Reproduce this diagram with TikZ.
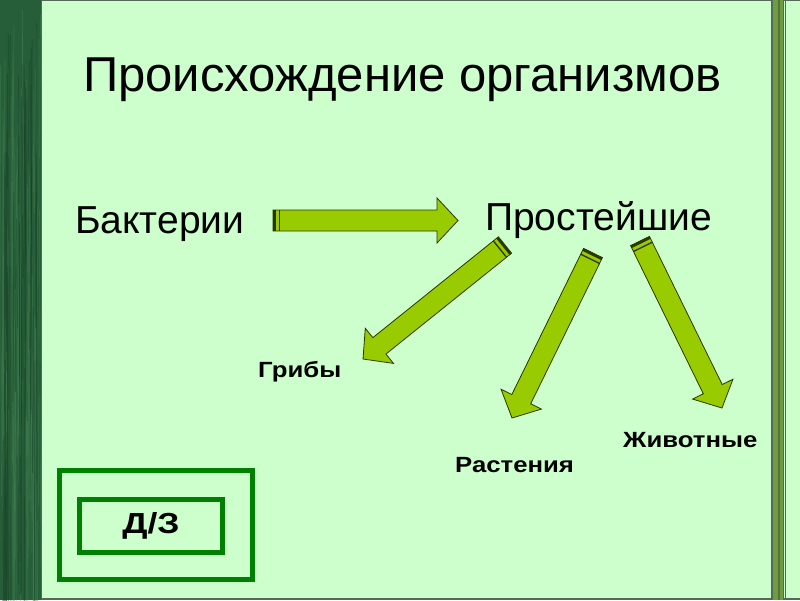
\documentclass[tikz,border=0pt]{standalone}
\usepackage{fontspec}
\setmainfont{Liberation Sans}
\usetikzlibrary{calc}
\definecolor{slidebg}{HTML}{CCFFCC}
\definecolor{strip}{HTML}{255E38}
\definecolor{striplight}{HTML}{4C8A5C}
\definecolor{stripdark}{HTML}{173F25}
\definecolor{arrowfill}{HTML}{99CC00}
\definecolor{arrowline}{HTML}{2B3600}
\definecolor{boxgreen}{HTML}{008000}
\definecolor{railgray}{HTML}{55685A}
\definecolor{railgreen}{HTML}{6F9B45}

\tikzset{
  arrowbody/.style={fill=arrowfill, draw=arrowline, line width=0.8pt, line join=miter},
  headtext/.style={anchor=base west, inner sep=0pt, font=\fontsize{39}{42}\selectfont},
  kidtext/.style={anchor=base west, inner sep=0pt, xscale=1.17, font=\bfseries\fontsize{22}{24}\selectfont},
  hwbox/.style={draw=boxgreen, line width=5pt}
}

% block arrow from #1 (tail centre) to #2 (tip)
\newcommand{\blockarrow}[2]{%
  \coordinate (ba-h) at ($(#2)!21pt!(#1)$);
  \draw[arrowbody] ($(#1)!10.5pt!90:(#2)$) -- ($(ba-h)!10.5pt!90:(#2)$)
    -- ($(ba-h)!22.5pt!90:(#2)$) -- (#2) -- ($(ba-h)!22.5pt!-90:(#2)$)
    -- ($(ba-h)!10.5pt!-90:(#2)$) -- ($(#1)!10.5pt!-90:(#2)$) -- cycle;
  \coordinate (ba-t1) at ($(#1)!1.4pt!(#2)$);
  \coordinate (ba-t2) at ($(#1)!6.5pt!(#2)$);
  \draw[arrowline, line width=2.6pt] ($(ba-t1)!10.5pt!90:(#2)$) -- ($(ba-t1)!10.5pt!-90:(#2)$);
  \draw[arrowline, line width=1.3pt] ($(ba-t2)!10.5pt!90:(#2)$) -- ($(ba-t2)!10.5pt!-90:(#2)$);
}

\begin{document}
\begin{tikzpicture}[x=1pt, y=-1pt]
    \useasboundingbox (0,0) rectangle (800,600);

    % Slide background
    \fill[slidebg] (0,0) rectangle (800,600);

    % Textured strip on the left
    \fill[strip] (0,0) rectangle (41,600);
    \pgfmathsetseed{7}
    \foreach \i in {1,...,70} {
        \pgfmathsetmacro{\xx}{rnd*40+0.5}
        \pgfmathsetmacro{\yy}{rnd*500}
        \pgfmathsetmacro{\ll}{100+rnd*300}
        \draw[striplight, opacity=0.3, line width=0.9pt] (\xx,\yy) -- (\xx+rnd*3-1.5,\yy+\ll);
    }
    \foreach \i in {1,...,50} {
        \pgfmathsetmacro{\xx}{rnd*40+0.5}
        \pgfmathsetmacro{\yy}{rnd*500}
        \pgfmathsetmacro{\ll}{100+rnd*300}
        \draw[stripdark, opacity=0.4, line width=1pt] (\xx,\yy) -- (\xx+rnd*3-1.5,\yy+\ll);
    }
    \draw[railgray, line width=1.2pt] (41.5,0) -- (41.5,600);
    \draw[railgray, line width=1.5pt] (41,0.7) -- (800,0.7);
    \draw[railgray, line width=1.5pt] (41,599.2) -- (800,599.2);

    % Rail on the right
    \fill[railgreen] (772,0) rectangle (782.8,600);
    \fill[railgreen!75!black] (777.5,0) rectangle (779.5,600);
    \draw[railgray, line width=1.2pt] (772,0) -- (772,600);
    \draw[railgray, line width=0.8pt] (782.9,0) -- (782.9,600);
    \draw[railgray, line width=1.2pt] (785.2,0) -- (785.2,600);

    % Texts
    \node[anchor=base west, inner sep=0pt, font=\fontsize{49}{52}\selectfont] (title) at (83,91) {Происхождение организмов};
    \node[headtext] (bact) at (75,233) {Бактерии};
    \node[headtext] (pros) at (485,230) {Простейшие};
    \node[kidtext] (grib) at (258,377) {Грибы};
    \node[kidtext] (rast) at (455,472) {Растения};
    \node[kidtext] (zhiv) at (623,447) {Животные};

    % Arrow end points
    \coordinate (bact-out) at (273,220.5);
    \coordinate (pros-in) at (458,220.5);
    \coordinate (pros-g) at (505,245);
    \coordinate (grib-in) at (363,359);
    \coordinate (pros-r) at (593,253);
    \coordinate (rast-in) at (512,418);
    \coordinate (pros-z) at (640,241);
    \coordinate (zhiv-in) at (722,408);

    \blockarrow{bact-out}{pros-in}
    \blockarrow{pros-g}{grib-in}
    \blockarrow{pros-r}{rast-in}
    \blockarrow{pros-z}{zhiv-in}

    % Homework box
    \draw[hwbox] (59.5,470.5) rectangle (252.5,579.5);
    \node[hwbox, minimum width=143pt, minimum height=53pt, inner sep=0pt] (hw) at (151,526) {};
    \node[xscale=1.22, inner sep=0pt, font=\bfseries\fontsize{29}{32}\selectfont] (hwtext) at (hw) {Д/З};
\end{tikzpicture}
\end{document}
